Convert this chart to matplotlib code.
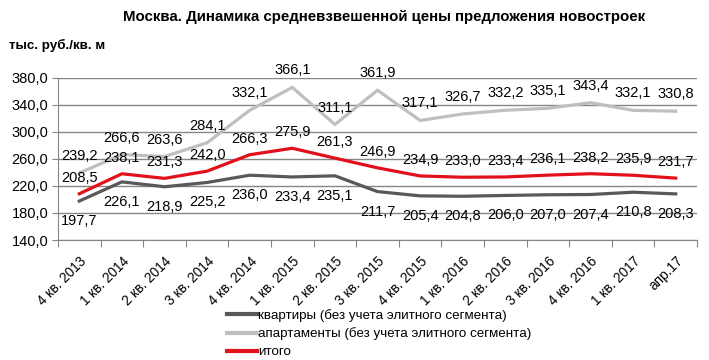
import matplotlib.pyplot as plt
import numpy as np

plt.rcParams['font.family'] = ['Liberation Sans', 'DejaVu Sans']

# ── Data ──────────────────────────────────────────────────────────────────────
periods = ["4 кв. 2013", "1 кв. 2014", "2 кв. 2014", "3 кв. 2014", "4 кв. 2014",
           "1 кв. 2015", "2 кв. 2015", "3 кв. 2015", "4 кв. 2015", "1 кв. 2016",
           "2 кв. 2016", "3 кв. 2016", "4 кв. 2016", "1 кв. 2017", "апр.17"]
flats = [197.7, 226.1, 218.9, 225.2, 236.0, 233.4, 235.1, 211.7, 205.4, 204.8,
         206.0, 207.0, 207.4, 210.8, 208.3]
apartments = [239.2, 266.6, 263.6, 284.1, 332.1, 366.1, 311.1, 361.9, 317.1, 326.7,
              332.2, 335.1, 343.4, 332.1, 330.8]
total = [208.5, 238.1, 231.3, 242.0, 266.3, 275.9, 261.3, 246.9, 234.9, 233.0,
         233.4, 236.1, 238.2, 235.9, 231.7]

C_FLATS = "#595959"
C_APT = "#bfbfbf"
C_TOTAL = "#e2101b"

fig = plt.figure(figsize=(7.09, 3.6), dpi=100)
ax = fig.add_axes([58 / 709, 1 - 240 / 360, 639 / 709, 162 / 360])

x = np.arange(len(periods))
ax.plot(x, flats, color=C_FLATS, lw=2.3, label="квартиры (без учета элитного сегмента)", zorder=3)
ax.plot(x, apartments, color=C_APT, lw=2.3, label="апартаменты (без учета элитного сегмента)", zorder=3)
ax.plot(x, total, color=C_TOTAL, lw=2.3, label="итого", zorder=4)


def fmt(v):
    return f"{v:.1f}".replace(".", ",")


# data labels (offsets in pixels -> points)
px = 72 / 100
for xi, v in zip(x, apartments):
    ax.annotate(fmt(v), (xi, v), xytext=(0, 17 * px), textcoords="offset points",
                ha="center", va="center", fontsize=10.5, zorder=5)
for xi, v in zip(x, total):
    ax.annotate(fmt(v), (xi, v), xytext=(0, 16 * px), textcoords="offset points",
                ha="center", va="center", fontsize=10.5, zorder=5)
for xi, v in zip(x, flats):
    ax.annotate(fmt(v), (xi, v), xytext=(0, -20 * px), textcoords="offset points",
                ha="center", va="center", fontsize=10.5, zorder=5)

# axes
ax.set_xlim(-0.5, len(periods) - 0.5)
ax.set_ylim(140, 380)
ax.set_yticks(np.arange(140, 381, 40))
ax.set_yticklabels([fmt(t) for t in np.arange(140, 381, 40)], fontsize=10.5)
ax.yaxis.grid(True, color="#868686", lw=1)
ax.set_axisbelow(True)

ax.set_xticks(np.arange(-0.5, len(periods), 1))
ax.set_xticklabels([])
ax.set_xticks(x, minor=True)
ax.set_xticklabels(periods, minor=True, rotation=45, ha="right",
                   rotation_mode="anchor", fontsize=9.8)
ax.tick_params(axis="x", which="major", length=5, color="#868686", direction="out")
ax.tick_params(axis="x", which="minor", length=0, pad=10)
ax.tick_params(axis="y", length=4, color="#868686", pad=3)

for s in ("top", "right"):
    ax.spines[s].set_visible(False)
for s in ("left", "bottom"):
    ax.spines[s].set_color("#868686")

# titles
fig.text(384 / 709, 1 - 17 / 360, "Москва. Динамика средневзвешенной цены предложения новостроек",
         ha="center", va="center", fontsize=10.8, fontweight="bold")
fig.text(9 / 709, 1 - 45 / 360, "тыс. руб./кв. м", ha="left", va="center",
         fontsize=9.6, fontweight="bold")

leg = fig.legend(loc="upper left", bbox_to_anchor=(227 / 709, 1 - 309 / 360), frameon=False,
                 fontsize=9.6, handlelength=2.25, handletextpad=0.08, labelspacing=0.42,
                 borderaxespad=0, borderpad=0)
for line in leg.get_lines():
    line.set_linewidth(3)

fig.savefig("out.png", dpi=100, facecolor="white")
